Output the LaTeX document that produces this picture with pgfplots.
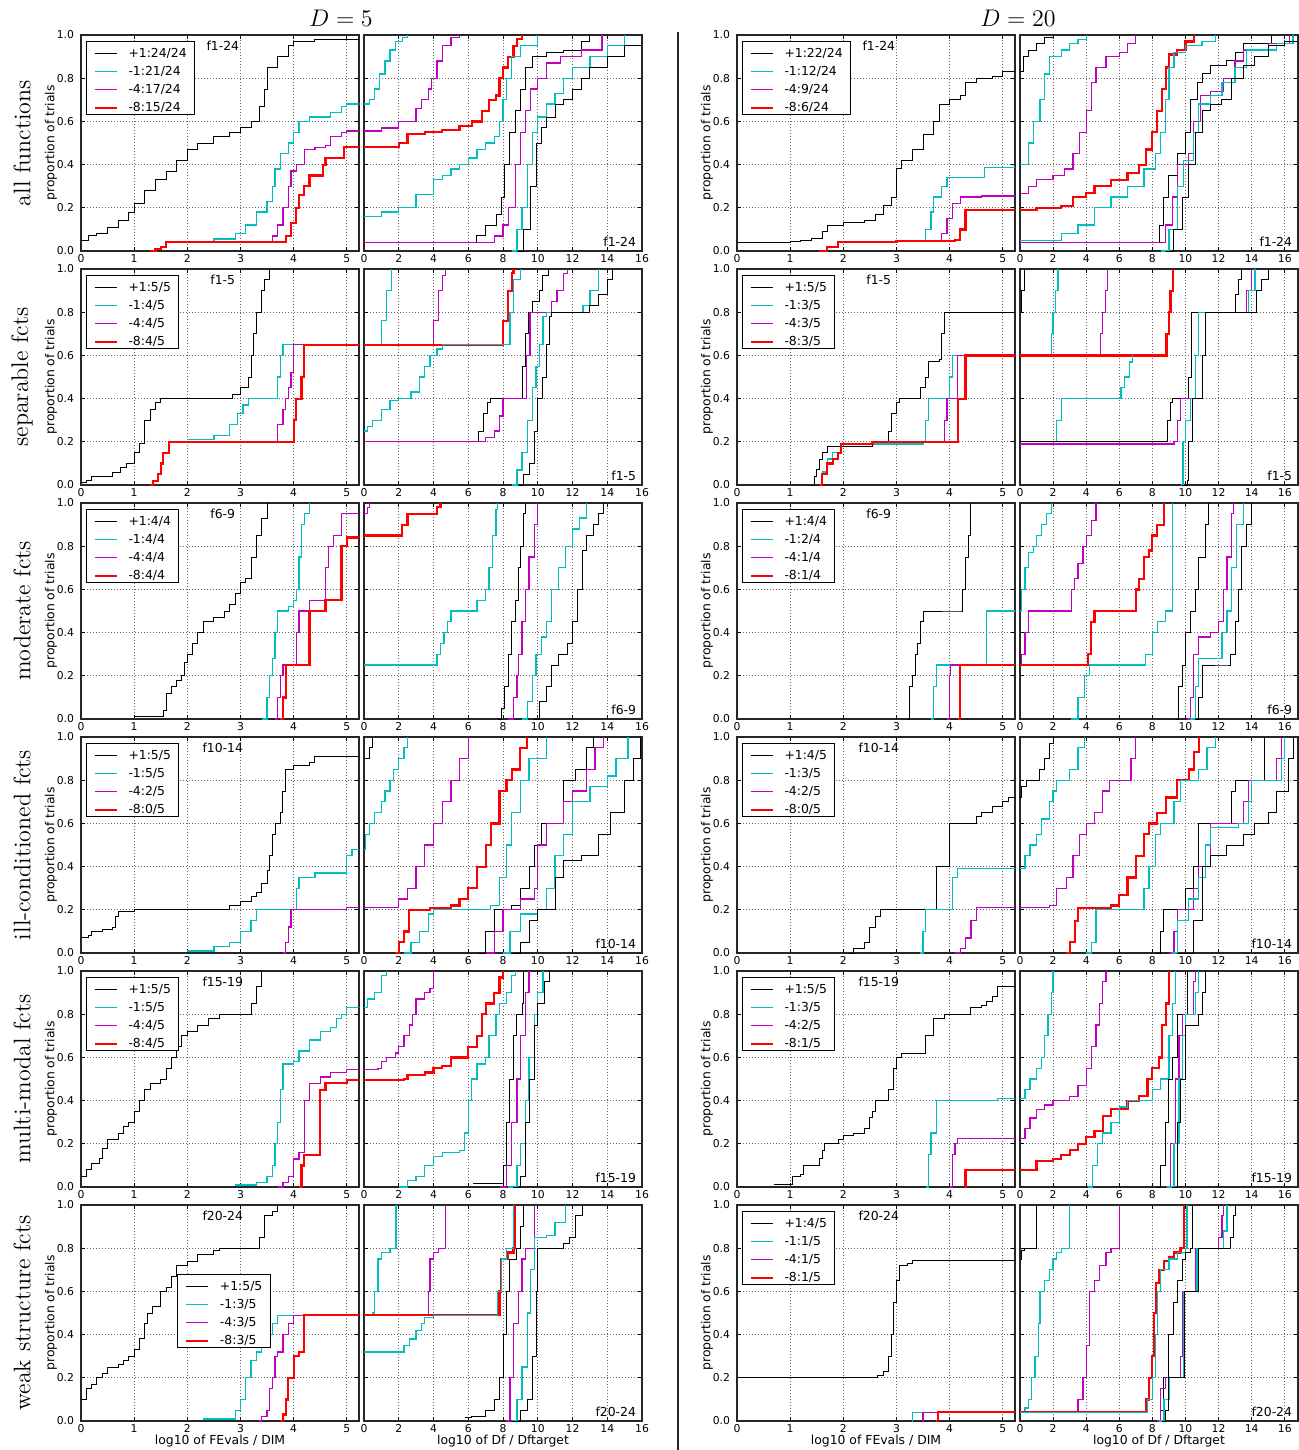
\documentclass[border=0pt]{standalone}
\usepackage{fontspec}
\usepackage{pgfplots}
\pgfplotsset{compat=1.18}
\newfontfamily\dv{DejaVu Sans}
\newcommand\tkf{\dv\fontsize{5.4}{6.5}\selectfont}
\newcommand\lgf{\dv\fontsize{6.2}{7.4}\selectfont}
\newcommand\rlf{\fontsize{12}{14}\selectfont}
\definecolor{mc}{rgb}{0,0.75,0.75}
\definecolor{mg}{rgb}{0.75,0,0.75}
\pgfplotsset{
  bb/.style={black, line width=0.5pt},
  cc/.style={mc, line width=0.65pt},
  mm/.style={mg, line width=0.65pt},
  rr/.style={red, line width=1.1pt},
  base/.style={scale only axis, width=139pt, height=108pt, ymin=0, ymax=1,
    ytick={0,0.2,0.4,0.6,0.8,1}, const plot, grid=major,
    grid style={black!60, line width=0.35pt, dash pattern=on 0.5pt off 1pt},
    tick align=inside, major tick length=2pt, tick style={black, line width=0.4pt},
    axis line style={black!85, line width=0.6pt},
    ticklabel style={font=\tkf}, /pgf/number format/assume math mode=true,
    yticklabel style={/pgf/number format/.cd, fixed, fixed zerofill, precision=1},
    xticklabel style={inner sep=1.5pt},
    anchor=south west,
    xlabel style={font=\lgf, at={(axis description cs:0.5,0)}, anchor=center, yshift=-10pt},
    ylabel style={font=\lgf, at={(axis description cs:-0.108,0.5)}, anchor=center},
  },
  colA/.style={base, at={(40.5pt,#1)}, xmin=0, xmax=5.23, xtick={0,1,2,3,4,5}, ylabel={proportion of trials}},
  colB/.style={base, at={(182pt,#1)}, xmin=0, xmax=16, xtick={0,2,4,6,8,10,12,14,16}, yticklabels={,,}},
  colC/.style={base, at={(368.5pt,#1)}, xmin=0, xmax=5.23, xtick={0,1,2,3,4,5}, ylabel={proportion of trials}},
  colD/.style={base, at={(510pt,#1)}, xmin=0, xmax=16.8, xtick={0,2,4,6,8,10,12,14,16}, yticklabels={,,}},
}
\newcommand\ftop[1]{\node[font=\lgf, anchor=base] at (rel axis cs:0.51,1) [yshift=-7.5pt] {#1};}
\newcommand\fbot[1]{\node[font=\lgf, anchor=base east, inner sep=0pt] at (rel axis cs:1,0) [xshift=-2.8pt, yshift=2.2pt] {#1};}
\newcommand\lsamp[2]{\textcolor{#1}{\rule[\dimexpr 1.9pt-#2/2\relax]{11pt}{#2}}\hspace{6pt}}
\newcommand\lgdbody[4]{\rule{0pt}{7.2pt}\lsamp{black}{0.5pt}#1\\[1.6pt]\lsamp{mc}{0.65pt}#2\\[1.6pt]\lsamp{mg}{0.65pt}#3\\[1.6pt]\lsamp{red}{1.1pt}#4}
\newcommand\lgd[4]{\node[draw=black, line width=0.5pt, fill=white, anchor=north west, inner xsep=4pt, inner ysep=0.8pt, font=\lgf, align=left] at (rel axis cs:0,1) [xshift=2.5pt, yshift=-3pt] {\lgdbody{#1}{#2}{#3}{#4}};}
\begin{document}
\begin{tikzpicture}
\path[use as bounding box] (0,0) rectangle (649.5pt,-725pt);
\node[font=\fontsize{11.5}{13}\selectfont] at (170.5pt,-9pt) {$D=5$};
\node[font=\fontsize{11.5}{13}\selectfont] at (509pt,-9pt) {$D=20$};
\draw[line width=1pt, black!85] (339pt,-16pt) -- (339pt,-725pt);
\node[rotate=90, font=\rlf] at (11pt,-71.5pt) {all functions};
\node[rotate=90, font=\rlf] at (11pt,-188.5pt) {separable fcts};
\node[rotate=90, font=\rlf] at (11pt,-305.5pt) {moderate fcts};
\node[rotate=90, font=\rlf] at (11pt,-422.5pt) {ill-conditioned fcts};
\node[rotate=90, font=\rlf] at (11pt,-539.5pt) {multi-modal fcts};
\node[rotate=90, font=\rlf] at (11pt,-656.5pt) {weak structure fcts};

% ================= ROW 1 =================
\begin{axis}[colA=-125.5pt]
\addplot[bb] coordinates {(0,0.05)(0.15,0.07)(0.3,0.08)(0.5,0.11)(0.7,0.14)(0.9,0.18)(1.0,0.22)(1.2,0.28)(1.4,0.33)(1.6,0.37)(1.8,0.42)(2.0,0.47)(2.2,0.5)(2.5,0.53)(2.8,0.55)(3.0,0.57)(3.2,0.6)(3.35,0.67)(3.45,0.75)(3.5,0.85)(3.7,0.9)(3.9,0.95)(4.0,0.97)(4.4,0.98)(5.3,0.98)};
\addplot[cc] coordinates {(2.0,0.045)(2.5,0.055)(2.9,0.08)(3.1,0.12)(3.3,0.18)(3.5,0.23)(3.6,0.3)(3.65,0.38)(3.75,0.45)(3.9,0.5)(4.0,0.55)(4.1,0.6)(4.3,0.62)(4.7,0.64)(4.9,0.67)(5.0,0.68)(5.3,0.68)};
\addplot[mm] coordinates {(3.5,0.045)(3.6,0.07)(3.7,0.12)(3.8,0.2)(3.9,0.3)(3.95,0.37)(4.05,0.4)(4.2,0.47)(4.4,0.48)(4.6,0.49)(4.7,0.53)(4.9,0.55)(5.0,0.555)(5.3,0.555)};
\addplot[rr] coordinates {(1.3,0)(1.4,0.01)(1.5,0.02)(1.6,0.04)(3.8,0.04)(3.85,0.07)(3.95,0.13)(4.05,0.2)(4.1,0.26)(4.2,0.3)(4.3,0.35)(4.5,0.35)(4.55,0.4)(4.6,0.43)(4.9,0.43)(4.95,0.48)(5.3,0.48)};
\ftop{f1-24}
\lgd{+1:24/24}{-1:21/24}{-4:17/24}{-8:15/24}
\end{axis}
\begin{axis}[colB=-125.5pt]
\addplot[cc] coordinates {(0,0.68)(0.3,0.7)(0.6,0.75)(0.9,0.82)(1.2,0.88)(1.5,0.93)(1.8,0.97)(2.2,0.99)(2.5,1.0)};
\addplot[mm] coordinates {(0,0.555)(1,0.57)(2,0.6)(3,0.66)(3.3,0.7)(3.7,0.75)(3.9,0.8)(4.2,0.88)(4.5,0.95)(5,0.99)(5.5,1.0)};
\addplot[rr] coordinates {(0,0.48)(1.8,0.48)(2.0,0.5)(2.5,0.54)(3.5,0.55)(4.5,0.56)(5.5,0.58)(6.2,0.6)(6.8,0.65)(7.2,0.7)(7.6,0.72)(7.8,0.8)(8.0,0.85)(8.3,0.9)(8.6,0.95)(8.8,0.98)(9.1,1.0)};
\addplot[cc] coordinates {(0,0.16)(1,0.18)(2,0.2)(3,0.26)(4,0.33)(4.5,0.35)(5,0.38)(5.5,0.4)(6,0.43)(6.5,0.47)(7,0.5)(7.5,0.53)(7.8,0.6)(8.0,0.7)(8.2,0.8)(8.5,0.9)(9,0.95)(10,1.0)};
\addplot[bb] coordinates {(0,0.04)(6.2,0.04)(6.5,0.07)(7,0.12)(7.6,0.17)(7.9,0.25)(8.1,0.4)(8.4,0.55)(8.7,0.65)(9.0,0.75)(9.3,0.85)(9.7,0.9)(10.5,0.92)(11.5,0.93)(12.5,0.97)(13.0,1.0)};
\addplot[mm] coordinates {(0,0.04)(6.8,0.04)(7.5,0.07)(8.0,0.12)(8.3,0.2)(8.7,0.4)(9.0,0.55)(9.3,0.65)(9.6,0.75)(10,0.8)(10.5,0.87)(11.3,0.9)(12.5,0.93)(13.7,1.0)};
\addplot[cc] coordinates {(8.5,0)(8.8,0.1)(9.1,0.2)(9.4,0.4)(9.7,0.55)(10,0.62)(10.5,0.68)(11,0.73)(11.5,0.8)(12,0.85)(13,0.9)(14,0.95)(15,1.0)};
\addplot[bb] coordinates {(8.8,0)(9.2,0.1)(9.6,0.3)(9.9,0.5)(10.2,0.57)(10.5,0.62)(11,0.68)(11.5,0.7)(12,0.75)(12.5,0.8)(13,0.85)(14,0.9)(15,0.95)(16,1.0)};
\fbot{f1-24}
\end{axis}
\begin{axis}[colC=-125.5pt]
\addplot[bb] coordinates {(0,0.04)(1.0,0.045)(1.2,0.05)(1.4,0.06)(1.6,0.09)(1.7,0.12)(2.0,0.13)(2.4,0.14)(2.6,0.17)(2.75,0.21)(2.9,0.25)(3.0,0.38)(3.1,0.42)(3.3,0.47)(3.5,0.54)(3.7,0.6)(3.8,0.68)(4.0,0.7)(4.2,0.72)(4.3,0.78)(4.5,0.8)(4.8,0.81)(5.0,0.83)(5.3,0.83)};
\addplot[cc] coordinates {(3.35,0.045)(3.55,0.1)(3.65,0.18)(3.7,0.25)(3.85,0.3)(3.95,0.34)(4.6,0.34)(4.65,0.385)(5.3,0.385)};
\addplot[mm] coordinates {(3.6,0.045)(3.85,0.08)(3.95,0.15)(4.05,0.22)(4.2,0.25)(4.6,0.255)(5.3,0.265)};
\addplot[rr] coordinates {(1.55,0)(1.7,0.02)(1.9,0.04)(3.0,0.045)(4.1,0.05)(4.2,0.1)(4.3,0.19)(5.3,0.19)};
\ftop{f1-24}
\lgd{+1:22/24}{-1:12/24}{-4:9/24}{-8:6/24}
\end{axis}
\begin{axis}[colD=-125.5pt]
\addplot[bb] coordinates {(0,0.83)(0.2,0.9)(0.5,0.93)(1,0.96)(1.5,0.99)(2,1.0)};
\addplot[cc] coordinates {(0,0.4)(0.5,0.5)(0.8,0.6)(1.2,0.7)(1.5,0.82)(1.8,0.9)(2.5,0.93)(3,0.96)(3.5,0.98)(4,1.0)};
\addplot[mm] coordinates {(0,0.265)(0.5,0.3)(1,0.33)(2,0.35)(2.7,0.38)(3.2,0.45)(3.6,0.55)(4.0,0.65)(4.3,0.78)(4.6,0.85)(5.2,0.9)(6,0.92)(6.5,0.96)(7,1.0)};
\addplot[rr] coordinates {(0,0.19)(1,0.2)(2.5,0.21)(3.2,0.25)(4,0.27)(4.5,0.3)(5.5,0.33)(6.5,0.36)(7.2,0.4)(7.6,0.47)(8.0,0.55)(8.3,0.65)(8.6,0.75)(8.8,0.85)(9.0,0.91)(9.5,0.93)(10,0.97)(10.5,1.0)};
\addplot[cc] coordinates {(0,0.05)(2,0.05)(2.5,0.08)(3.5,0.12)(4.5,0.2)(5.5,0.25)(6.5,0.3)(7.5,0.38)(8.2,0.45)(8.5,0.55)(8.8,0.7)(9.0,0.85)(9.3,0.92)(10,0.95)(11,0.97)(11.8,1.0)};
\addplot[bb] coordinates {(0,0.04)(8.2,0.04)(8.4,0.12)(8.7,0.25)(9.0,0.35)(9.5,0.45)(10,0.55)(10.3,0.7)(10.7,0.78)(11,0.82)(11.5,0.86)(12.5,0.88)(13,0.92)(13.5,0.96)(15,0.96)(15.2,1.0)};
\addplot[mm] coordinates {(0,0.04)(8.4,0.04)(8.8,0.12)(9.2,0.25)(9.5,0.4)(10.2,0.45)(10.5,0.6)(10.9,0.72)(11.5,0.74)(12.3,0.8)(13,0.88)(13.5,0.93)(15,0.96)(16.3,1.0)};
\addplot[cc] coordinates {(8.5,0)(9.0,0.1)(9.5,0.3)(9.9,0.42)(10.5,0.55)(10.8,0.68)(11.5,0.72)(12.2,0.78)(13,0.85)(13.7,0.93)(15.5,0.96)(16.5,1.0)};
\addplot[bb] coordinates {(8.8,0)(9.3,0.1)(9.8,0.25)(10.2,0.4)(10.6,0.55)(11,0.65)(11.5,0.68)(12.2,0.7)(12.8,0.8)(13.5,0.86)(14.2,0.9)(15,0.95)(16,0.97)(16.8,1.0)};
\fbot{f1-24}
\end{axis}

% ================= ROW 2 =================
\begin{axis}[colA=-242.5pt]
\addplot[bb] coordinates {(0,0.01)(0.1,0.02)(0.2,0.04)(0.6,0.06)(0.75,0.08)(0.85,0.1)(1.0,0.15)(1.1,0.19)(1.2,0.3)(1.3,0.35)(1.4,0.38)(1.5,0.4)(2.8,0.4)(2.85,0.42)(3.0,0.45)(3.15,0.5)(3.2,0.6)(3.25,0.7)(3.3,0.8)(3.4,0.9)(3.45,0.95)(3.55,1.0)};
\addplot[cc] coordinates {(2.0,0.21)(2.5,0.23)(2.8,0.28)(2.95,0.33)(3.05,0.37)(3.15,0.4)(3.65,0.4)(3.7,0.5)(3.75,0.6)(3.8,0.65)(5.3,0.65)};
\addplot[mm] coordinates {(3.6,0.2)(3.7,0.28)(3.8,0.35)(3.85,0.4)(3.9,0.45)(3.95,0.52)(4.0,0.65)(5.3,0.65)};
\addplot[rr] coordinates {(1.3,0)(1.35,0.02)(1.45,0.05)(1.5,0.1)(1.55,0.15)(1.65,0.2)(3.95,0.2)(4.0,0.3)(4.05,0.4)(4.15,0.5)(4.2,0.65)(5.3,0.65)};
\ftop{f1-5}
\lgd{+1:5/5}{-1:4/5}{-4:4/5}{-8:4/5}
\end{axis}
\begin{axis}[colB=-242.5pt]
\addplot[cc] coordinates {(0,0.65)(1.0,0.76)(1.3,0.9)(1.6,1.0)};
\addplot[mm] coordinates {(0,0.65)(4.0,0.76)(4.3,0.9)(4.5,0.97)(4.7,1.0)};
\addplot[rr] coordinates {(0,0.65)(8.0,0.76)(8.3,0.9)(8.5,0.98)(8.6,1.0)};
\addplot[cc] coordinates {(0,0.25)(0.2,0.27)(0.5,0.3)(1,0.35)(1.5,0.39)(2,0.4)(2.7,0.43)(3.2,0.5)(3.5,0.55)(3.8,0.6)(4.2,0.63)(4.5,0.65)(8.2,0.65)(8.4,0.8)(8.6,0.95)(9.0,1.0)};
\addplot[bb] coordinates {(0,0.2)(6.4,0.2)(6.6,0.25)(6.9,0.33)(7.1,0.38)(7.3,0.4)(9.0,0.4)(9.15,0.55)(9.3,0.7)(9.45,0.8)(9.7,0.85)(10.1,0.9)(10.3,0.97)(10.6,1.0)};
\addplot[mm] coordinates {(0,0.2)(6.6,0.2)(7.0,0.22)(7.5,0.25)(7.8,0.32)(8.0,0.4)(9.2,0.4)(9.35,0.6)(9.55,0.8)(10.6,0.8)(10.8,0.85)(11.1,0.9)(11.5,0.98)(11.7,1.0)};
\addplot[cc] coordinates {(8.5,0)(8.8,0.07)(9.1,0.15)(9.4,0.3)(9.7,0.45)(9.9,0.55)(10.1,0.65)(10.3,0.78)(10.5,0.8)(12.3,0.8)(12.6,0.83)(13.0,0.9)(13.5,1.0)};
\addplot[bb] coordinates {(8.9,0)(9.2,0.05)(9.5,0.1)(9.8,0.25)(10.0,0.4)(10.3,0.5)(10.5,0.65)(10.7,0.78)(10.8,0.8)(12.6,0.8)(13.0,0.83)(13.5,0.88)(14.0,0.95)(14.3,1.0)};
\fbot{f1-5}
\end{axis}
\begin{axis}[colC=-242.5pt]
\addplot[bb] coordinates {(1.4,0)(1.45,0.04)(1.5,0.07)(1.55,0.12)(1.6,0.15)(1.7,0.18)(2.5,0.18)(2.55,0.2)(2.8,0.2)(2.85,0.25)(2.9,0.33)(3.0,0.38)(3.05,0.4)(3.35,0.4)(3.45,0.45)(3.55,0.5)(3.6,0.57)(3.8,0.58)(3.85,0.7)(3.9,0.8)(5.3,0.8)};
\addplot[cc] coordinates {(1.6,0.06)(1.7,0.12)(1.8,0.15)(1.95,0.19)(3.5,0.2)(3.55,0.3)(3.6,0.4)(3.95,0.4)(4.0,0.5)(4.05,0.6)(5.3,0.6)};
\addplot[mm] coordinates {(3.85,0.2)(3.9,0.3)(3.95,0.4)(4.1,0.4)(4.15,0.6)(5.3,0.6)};
\addplot[rr] coordinates {(1.55,0)(1.6,0.05)(1.7,0.1)(1.8,0.12)(1.9,0.15)(1.95,0.19)(2.5,0.19)(2.55,0.2)(4.1,0.2)(4.15,0.4)(4.3,0.6)(5.3,0.6)};
\ftop{f1-5}
\lgd{+1:5/5}{-1:3/5}{-4:3/5}{-8:3/5}
\end{axis}
\begin{axis}[colD=-242.5pt]
\addplot[bb] coordinates {(0,0.8)(0.1,0.9)(0.3,1.0)};
\addplot[cc] coordinates {(0,0.6)(1.8,0.6)(1.9,0.7)(2.0,0.8)(2.15,0.9)(2.3,1.0)};
\addplot[mm] coordinates {(4.7,0.6)(4.85,0.7)(5.0,0.8)(5.15,0.9)(5.3,1.0)};
\addplot[rr] coordinates {(0,0.6)(8.7,0.6)(8.85,0.7)(9.0,0.8)(9.1,0.9)(9.25,1.0)};
\addplot[cc] coordinates {(0,0.2)(2.0,0.2)(2.2,0.3)(2.5,0.4)(5.9,0.4)(6.1,0.45)(6.3,0.5)(6.6,0.57)(6.8,0.6)};
\addplot[bb] coordinates {(0,0.2)(8.7,0.2)(8.9,0.3)(9.1,0.38)(9.2,0.4)(10.0,0.4)(10.2,0.5)(10.35,0.8)(12.8,0.8)(13.0,0.88)(13.2,0.95)(13.4,1.0)};
\addplot[mm] coordinates {(0,0.19)(9.0,0.19)(9.3,0.2)(9.5,0.3)(9.7,0.4)(10.4,0.4)(10.6,0.6)(10.8,0.8)(13.5,0.8)(13.7,0.9)(14.0,1.0)};
\addplot[cc] coordinates {(9.7,0)(9.85,0.2)(10.0,0.3)(10.3,0.4)(10.6,0.6)(10.8,0.8)(13.6,0.8)(13.8,0.9)(14.2,1.0)};
\addplot[bb] coordinates {(9.8,0)(10.1,0.02)(10.2,0.2)(10.4,0.4)(10.9,0.4)(11.0,0.6)(11.2,0.8)(14.1,0.8)(14.3,0.9)(14.6,0.95)(15.0,1.0)};
\fbot{f1-5}
\end{axis}

% ================= ROW 3 =================
\begin{axis}[colA=-359.5pt]
\addplot[bb] coordinates {(1.0,0.01)(1.5,0.01)(1.55,0.04)(1.6,0.12)(1.7,0.15)(1.8,0.18)(1.9,0.2)(1.95,0.26)(2.0,0.3)(2.1,0.35)(2.2,0.4)(2.3,0.45)(2.5,0.47)(2.7,0.5)(2.8,0.53)(2.9,0.58)(3.0,0.63)(3.1,0.65)(3.2,0.75)(3.3,0.85)(3.4,0.93)(3.5,1.0)};
\addplot[cc] coordinates {(3.4,0)(3.5,0.1)(3.55,0.2)(3.6,0.28)(3.65,0.4)(3.7,0.5)(3.9,0.52)(4.0,0.55)(4.05,0.6)(4.1,0.75)(4.15,0.9)(4.2,0.95)(4.3,1.0)};
\addplot[mm] coordinates {(3.65,0)(3.7,0.1)(3.75,0.2)(3.8,0.25)(4.0,0.25)(4.05,0.4)(4.1,0.5)(4.3,0.55)(4.55,0.55)(4.6,0.7)(4.65,0.8)(4.75,0.85)(4.85,0.85)(4.9,0.95)(5.3,0.95)};
\addplot[rr] coordinates {(3.75,0)(3.8,0.1)(3.85,0.25)(4.3,0.5)(4.6,0.55)(4.9,0.8)(5.0,0.84)(5.3,0.84)};
\ftop{f6-9}
\lgd{+1:4/4}{-1:4/4}{-4:4/4}{-8:4/4}
\end{axis}
\begin{axis}[colB=-359.5pt]
\addplot[mm] coordinates {(0,0.95)(0.2,0.98)(0.3,1.0)};
\addplot[rr] coordinates {(0,0.85)(2.0,0.85)(2.2,0.9)(2.5,0.95)(4.0,0.95)(4.2,0.98)(4.4,1.0)};
\addplot[cc] coordinates {(0,0.25)(4.0,0.25)(4.2,0.3)(4.4,0.35)(4.6,0.4)(4.8,0.45)(5.0,0.5)(6.0,0.5)(6.5,0.55)(7.0,0.6)(7.2,0.7)(7.4,0.85)(7.6,0.97)(7.7,1.0)};
\addplot[bb] coordinates {(7.7,0)(7.9,0.05)(8.1,0.15)(8.3,0.3)(8.5,0.45)(8.7,0.55)(8.9,0.7)(9.0,0.8)(9.2,0.95)(9.3,1.0)};
\addplot[mm] coordinates {(8.3,0)(8.6,0.1)(8.8,0.2)(8.9,0.3)(9.1,0.45)(9.3,0.6)(9.5,0.75)(9.8,0.9)(10.0,1.0)};
\addplot[cc] coordinates {(9.1,0)(9.4,0.08)(9.7,0.2)(9.9,0.3)(10.2,0.38)(10.5,0.45)(10.8,0.6)(11.2,0.7)(11.6,0.8)(12.0,0.88)(12.4,0.93)(12.8,1.0)};
\addplot[bb] coordinates {(9.8,0)(10.1,0.08)(10.5,0.15)(10.8,0.25)(11.2,0.3)(11.7,0.35)(12.0,0.45)(12.3,0.6)(12.6,0.78)(12.8,0.85)(13.2,0.9)(13.5,0.95)(13.8,1.0)};
\fbot{f6-9}
\end{axis}
\begin{axis}[colC=-359.5pt]
\addplot[bb] coordinates {(3.2,0)(3.25,0.15)(3.3,0.2)(3.35,0.3)(3.4,0.35)(3.45,0.45)(3.5,0.5)(4.2,0.5)(4.25,0.6)(4.3,0.75)(4.35,0.85)(4.4,1.0)};
\addplot[cc] coordinates {(3.65,0)(3.7,0.15)(3.75,0.25)(4.7,0.5)(5.3,0.5)};
\addplot[mm] coordinates {(3.95,0)(4.0,0.2)(4.02,0.25)(5.3,0.25)};
\addplot[rr] coordinates {(4.15,0)(4.2,0.25)(5.3,0.25)};
\ftop{f6-9}
\lgd{+1:4/4}{-1:2/4}{-4:1/4}{-8:1/4}
\end{axis}
\begin{axis}[colD=-359.5pt]
\addplot[cc] coordinates {(0,0.5)(0.1,0.6)(0.3,0.7)(0.5,0.77)(0.8,0.8)(1.0,0.85)(1.3,0.9)(1.6,0.95)(1.9,1.0)};
\addplot[mm] coordinates {(0,0.25)(0.1,0.3)(0.3,0.4)(0.5,0.5)(3.0,0.5)(3.1,0.6)(3.3,0.65)(3.5,0.72)(3.8,0.8)(4.0,0.85)(4.3,0.92)(4.6,1.0)};
\addplot[rr] coordinates {(0,0.25)(4.0,0.25)(4.1,0.3)(4.3,0.45)(4.5,0.5)(6.9,0.5)(7.0,0.6)(7.2,0.65)(7.5,0.75)(7.8,0.78)(8.0,0.85)(8.3,0.9)(8.7,1.0)};
\addplot[cc] coordinates {(3.1,0)(3.5,0.1)(3.9,0.2)(4.2,0.25)(7.4,0.25)(7.6,0.3)(8.0,0.4)(8.3,0.45)(8.8,0.5)(9.1,0.5)(9.2,1.0)};
\addplot[bb] coordinates {(9.4,0)(9.6,0.15)(9.8,0.25)(10.0,0.4)(10.3,0.5)(10.6,0.6)(10.8,0.75)(11.2,0.9)(11.4,1.0)};
\addplot[mm] coordinates {(10.1,0)(10.3,0.1)(10.5,0.3)(10.8,0.38)(11.5,0.4)(12.0,0.45)(12.3,0.6)(12.5,0.75)(12.8,0.95)(12.9,1.0)};
\addplot[cc] coordinates {(10.3,0)(10.6,0.15)(10.8,0.28)(12.0,0.28)(12.2,0.4)(12.5,0.5)(12.8,0.7)(13.1,0.9)(13.5,1.0)};
\addplot[bb] coordinates {(10.6,0)(10.8,0.1)(11.0,0.25)(12.5,0.25)(12.7,0.3)(13.0,0.45)(13.2,0.6)(13.4,0.8)(13.7,0.9)(14.0,1.0)};
\fbot{f6-9}
\end{axis}

% ================= ROW 4 =================
\begin{axis}[colA=-476.5pt]
\addplot[bb] coordinates {(0,0.07)(0.15,0.08)(0.2,0.1)(0.4,0.11)(0.6,0.12)(0.65,0.17)(0.7,0.19)(1.0,0.2)(2.7,0.2)(2.8,0.22)(3.0,0.24)(3.2,0.26)(3.3,0.28)(3.4,0.32)(3.5,0.38)(3.55,0.45)(3.6,0.55)(3.65,0.6)(3.75,0.65)(3.8,0.75)(3.85,0.85)(4.0,0.87)(4.3,0.88)(4.4,0.91)(5.3,0.91)};
\addplot[cc] coordinates {(2.0,0.01)(2.5,0.03)(2.8,0.05)(3.0,0.1)(3.2,0.15)(3.3,0.2)(4.0,0.2)(4.05,0.3)(4.1,0.35)(4.4,0.37)(4.9,0.37)(5.0,0.45)(5.1,0.48)(5.3,0.48)};
\addplot[mm] coordinates {(3.8,0)(3.85,0.05)(3.9,0.12)(3.95,0.2)(5.0,0.21)(5.3,0.21)};
\ftop{f10-14}
\lgd{+1:5/5}{-1:5/5}{-4:2/5}{-8:0/5}
\end{axis}
\begin{axis}[colB=-476.5pt]
\addplot[bb] coordinates {(0,0.9)(0.3,0.95)(0.5,1.0)};
\addplot[cc] coordinates {(0,0.48)(0.1,0.55)(0.3,0.6)(0.6,0.65)(1.0,0.7)(1.2,0.75)(1.5,0.8)(1.7,0.85)(2.0,0.9)(2.3,0.95)(2.5,1.0)};
\addplot[mm] coordinates {(0,0.21)(1.5,0.21)(2.0,0.25)(2.5,0.3)(3.0,0.4)(3.5,0.5)(4.0,0.6)(4.5,0.7)(5.0,0.8)(5.5,0.9)(6.0,1.0)};
\addplot[rr] coordinates {(1.8,0)(2.0,0.05)(2.3,0.1)(2.6,0.2)(3.8,0.21)(5.0,0.22)(5.5,0.25)(6.0,0.3)(6.5,0.4)(7.0,0.5)(7.3,0.6)(7.8,0.75)(8.2,0.8)(8.5,0.85)(9.0,0.95)(9.4,1.0)};
\addplot[cc] coordinates {(2.3,0)(2.7,0.05)(3.2,0.1)(3.7,0.18)(4.0,0.2)(7.0,0.2)(7.3,0.22)(7.8,0.35)(8.2,0.5)(8.5,0.65)(9.0,0.8)(9.5,0.9)(10.5,1.0)};
\addplot[bb] coordinates {(6.6,0)(7.0,0.1)(7.5,0.2)(8.5,0.22)(9.0,0.3)(9.5,0.4)(9.8,0.5)(10.2,0.6)(11.0,0.6)(11.5,0.8)(12.2,0.85)(12.8,0.95)(13.2,1.0)};
\addplot[mm] coordinates {(7.0,0)(7.5,0.1)(8.0,0.2)(9.0,0.25)(9.8,0.3)(10.0,0.5)(10.5,0.6)(11.5,0.7)(12.0,0.75)(12.8,0.85)(13.3,0.95)(13.8,1.0)};
\addplot[cc] coordinates {(8.0,0)(8.4,0.1)(9.0,0.18)(10.0,0.2)(10.5,0.3)(11.0,0.45)(11.5,0.55)(12.0,0.7)(13.0,0.77)(14.0,0.82)(14.5,0.9)(15.2,1.0)};
\addplot[bb] coordinates {(8.6,0)(9.0,0.05)(9.5,0.15)(10.0,0.2)(10.8,0.2)(11.0,0.35)(11.5,0.43)(12.5,0.45)(13.5,0.55)(14.2,0.65)(15.0,0.8)(15.5,0.9)(15.9,1.0)};
\fbot{f10-14}
\end{axis}
\begin{axis}[colC=-476.5pt]
\addplot[bb] coordinates {(2.1,0)(2.2,0.02)(2.4,0.05)(2.5,0.12)(2.6,0.17)(2.7,0.2)(3.75,0.4)(4.0,0.6)(4.5,0.63)(4.6,0.65)(4.8,0.68)(5.0,0.7)(5.1,0.72)(5.3,0.72)};
\addplot[cc] coordinates {(3.45,0)(3.5,0.1)(3.55,0.2)(4.05,0.35)(4.15,0.39)(5.3,0.39)};
\addplot[mm] coordinates {(4.1,0)(4.2,0.02)(4.3,0.07)(4.4,0.15)(4.5,0.21)(5.3,0.21)};
\ftop{f10-14}
\lgd{+1:4/5}{-1:3/5}{-4:2/5}{-8:0/5}
\end{axis}
\begin{axis}[colD=-476.5pt]
\addplot[bb] coordinates {(0,0.72)(0.1,0.77)(0.4,0.8)(1.0,0.8)(1.2,0.85)(1.5,0.9)(1.8,0.97)(2.0,1.0)};
\addplot[cc] coordinates {(0,0.39)(0.3,0.45)(0.6,0.5)(1.0,0.55)(1.3,0.62)(1.8,0.7)(2.0,0.75)(2.2,0.8)(2.8,0.8)(3.0,0.85)(3.5,0.95)(3.9,1.0)};
\addplot[mm] coordinates {(0,0.21)(1.5,0.21)(1.8,0.22)(2.2,0.3)(2.8,0.35)(3.2,0.45)(3.6,0.55)(4.0,0.6)(4.5,0.65)(5.0,0.75)(5.4,0.8)(6.5,0.8)(6.7,0.9)(7.0,1.0)};
\addplot[rr] coordinates {(2.8,0)(3.0,0.05)(3.3,0.15)(3.5,0.21)(5.5,0.22)(6.0,0.27)(6.5,0.35)(7.0,0.45)(7.5,0.55)(7.8,0.6)(8.3,0.65)(8.8,0.72)(9.5,0.8)(10.0,0.8)(10.2,0.85)(10.5,0.93)(10.8,1.0)};
\addplot[cc] coordinates {(4.0,0)(4.3,0.05)(4.6,0.2)(7.2,0.2)(7.5,0.3)(7.8,0.4)(8.2,0.55)(8.5,0.6)(9.3,0.7)(9.7,0.8)(10.8,0.85)(11.3,0.95)(11.8,1.0)};
\addplot[bb] coordinates {(8.2,0)(8.5,0.1)(8.7,0.2)(9.5,0.2)(10.0,0.3)(10.5,0.4)(10.8,0.6)(12.5,0.6)(12.8,0.75)(13.0,0.8)(14.5,0.8)(14.8,1.0)};
\addplot[mm] coordinates {(9.0,0)(9.3,0.1)(9.5,0.2)(10.5,0.3)(10.8,0.4)(11.5,0.6)(13.0,0.6)(13.5,0.7)(13.8,0.8)(15.2,0.8)(15.5,0.9)(15.8,1.0)};
\addplot[cc] coordinates {(9.2,0)(9.5,0.15)(10.2,0.25)(10.8,0.35)(11.2,0.5)(11.5,0.58)(13.2,0.6)(13.8,0.7)(14.0,0.8)(15.5,0.8)(15.8,0.9)(16.0,1.0)};
\addplot[bb] coordinates {(9.5,0)(10.5,0.15)(11.0,0.4)(11.5,0.45)(12.5,0.5)(13.5,0.55)(14.2,0.6)(15.0,0.65)(15.5,0.75)(16.2,0.9)(16.5,1.0)};
\fbot{f10-14}
\end{axis}

% ================= ROW 5 =================
\begin{axis}[colA=-593.5pt]
\addplot[bb] coordinates {(0,0.05)(0.1,0.08)(0.2,0.11)(0.35,0.13)(0.4,0.18)(0.5,0.22)(0.7,0.25)(0.8,0.28)(0.9,0.3)(1.0,0.35)(1.1,0.4)(1.2,0.45)(1.3,0.48)(1.5,0.5)(1.6,0.55)(1.7,0.6)(1.8,0.65)(1.9,0.7)(2.0,0.72)(2.2,0.75)(2.4,0.78)(2.6,0.8)(3.1,0.8)(3.2,0.85)(3.3,0.93)(3.4,1.0)};
\addplot[cc] coordinates {(2.9,0.01)(3.3,0.02)(3.5,0.05)(3.6,0.1)(3.65,0.2)(3.7,0.3)(3.75,0.45)(3.8,0.57)(4.0,0.58)(4.1,0.63)(4.3,0.68)(4.5,0.72)(4.7,0.74)(4.8,0.78)(4.9,0.8)(5.0,0.83)(5.3,0.83)};
\addplot[mm] coordinates {(3.7,0)(3.8,0.02)(3.9,0.05)(4.0,0.13)(4.1,0.16)(4.2,0.4)(4.3,0.48)(4.5,0.51)(4.7,0.53)(5.0,0.545)(5.3,0.545)};
\addplot[rr] coordinates {(4.1,0)(4.15,0.1)(4.2,0.15)(4.5,0.45)(4.6,0.48)(5.0,0.495)(5.3,0.495)};
\ftop{f15-19}
\lgd{+1:5/5}{-1:5/5}{-4:4/5}{-8:4/5}
\end{axis}
\begin{axis}[colB=-593.5pt]
\addplot[cc] coordinates {(0,0.83)(0.2,0.87)(0.6,0.9)(1.0,0.98)(1.3,1.0)};
\addplot[mm] coordinates {(0,0.545)(0.8,0.55)(1.0,0.58)(1.3,0.6)(1.8,0.62)(2.0,0.65)(2.3,0.7)(2.6,0.75)(2.8,0.8)(3.0,0.87)(3.5,0.9)(3.8,0.92)(4.0,1.0)};
\addplot[rr] coordinates {(0,0.495)(2.3,0.5)(2.5,0.52)(3.5,0.53)(4.0,0.55)(4.5,0.56)(5.0,0.6)(5.8,0.6)(6.0,0.65)(6.5,0.7)(6.8,0.8)(7.0,0.85)(7.5,0.9)(7.8,0.97)(8.0,1.0)};
\addplot[cc] coordinates {(2.0,0)(2.5,0.03)(3.0,0.05)(3.5,0.1)(4.0,0.14)(4.5,0.16)(5.5,0.17)(5.8,0.25)(6.0,0.4)(6.2,0.5)(6.5,0.57)(7.0,0.6)(7.2,0.7)(7.6,0.8)(7.8,0.85)(8.2,0.9)(8.5,0.98)(8.7,1.0)};
\addplot[bb] coordinates {(6.3,0.015)(7.8,0.015)(8.0,0.1)(8.2,0.3)(8.4,0.5)(8.6,0.7)(8.8,0.8)(9.1,0.85)(9.2,1.0)};
\addplot[mm] coordinates {(7.8,0)(8.2,0.1)(8.5,0.3)(8.8,0.5)(9.0,0.7)(9.3,0.9)(9.5,1.0)};
\addplot[cc] coordinates {(8.3,0)(8.8,0.1)(9.0,0.2)(9.3,0.4)(9.5,0.6)(9.8,0.8)(10.0,0.9)(10.3,1.0)};
\addplot[bb] coordinates {(8.6,0)(9.0,0.05)(9.3,0.3)(9.5,0.5)(9.8,0.75)(10.0,0.85)(10.4,0.95)(10.7,1.0)};
\fbot{f15-19}
\end{axis}
\begin{axis}[colC=-593.5pt]
\addplot[bb] coordinates {(0.7,0.01)(1.05,0.05)(1.2,0.06)(1.25,0.1)(1.55,0.13)(1.6,0.17)(1.65,0.2)(1.9,0.22)(2.0,0.24)(2.2,0.25)(2.4,0.27)(2.5,0.32)(2.55,0.35)(2.6,0.4)(2.85,0.45)(2.95,0.55)(3.0,0.6)(3.1,0.62)(3.55,0.7)(3.7,0.78)(3.9,0.8)(4.4,0.83)(4.6,0.84)(4.7,0.86)(4.8,0.88)(4.9,0.93)(5.3,0.93)};
\addplot[cc] coordinates {(3.55,0)(3.6,0.15)(3.65,0.25)(3.75,0.4)(4.9,0.41)(5.3,0.41)};
\addplot[mm] coordinates {(4.0,0)(4.05,0.15)(4.1,0.2)(4.15,0.225)(5.3,0.225)};
\addplot[rr] coordinates {(4.29,0)(4.3,0.08)(5.3,0.08)};
\ftop{f15-19}
\lgd{+1:5/5}{-1:3/5}{-4:2/5}{-8:1/5}
\end{axis}
\begin{axis}[colD=-593.5pt]
\addplot[cc] coordinates {(0,0.41)(0.3,0.45)(0.6,0.5)(1.0,0.55)(1.3,0.6)(1.5,0.7)(1.7,0.8)(1.9,0.9)(2.0,1.0)};
\addplot[mm] coordinates {(0,0.225)(0.3,0.27)(0.6,0.32)(1.0,0.36)(1.5,0.38)(2.0,0.4)(3.0,0.42)(3.5,0.47)(4.0,0.55)(4.3,0.65)(4.6,0.75)(4.8,0.85)(5.0,0.95)(5.2,1.0)};
\addplot[rr] coordinates {(0,0.08)(0.8,0.08)(1.0,0.12)(2.0,0.13)(2.5,0.15)(3.0,0.17)(3.5,0.2)(4.0,0.23)(4.5,0.26)(5.0,0.33)(5.5,0.36)(6.5,0.4)(7.2,0.42)(7.7,0.5)(8.0,0.55)(8.4,0.6)(8.6,0.75)(8.8,0.85)(9.0,1.0)};
\addplot[cc] coordinates {(4.1,0)(4.4,0.1)(4.7,0.2)(5.0,0.25)(5.5,0.3)(6.0,0.37)(6.5,0.4)(7.5,0.4)(8.0,0.45)(8.5,0.5)(9.0,0.7)(9.2,0.85)(9.4,1.0)};
\addplot[bb] coordinates {(8.2,0)(8.5,0.1)(8.8,0.3)(9.0,0.5)(9.2,0.6)(9.5,0.8)(10.0,0.8)(10.1,1.0)};
\addplot[mm] coordinates {(8.8,0)(9.1,0.2)(9.4,0.5)(9.6,0.7)(9.8,0.8)(10.2,0.8)(10.5,0.95)(10.6,1.0)};
\addplot[cc] coordinates {(8.9,0)(9.3,0.2)(9.6,0.5)(9.8,0.7)(10.0,0.8)(10.5,0.8)(10.6,0.9)(10.8,1.0)};
\addplot[bb] coordinates {(9.2,0)(9.5,0.3)(9.7,0.5)(10.0,0.75)(10.8,0.8)(11.0,0.9)(11.2,1.0)};
\fbot{f15-19}
\end{axis}

% ================= ROW 6 =================
\begin{axis}[colA=-710.5pt, xlabel={log10 of FEvals / DIM}]
\addplot[bb] coordinates {(0,0.1)(0.1,0.15)(0.2,0.17)(0.3,0.2)(0.4,0.22)(0.5,0.25)(0.7,0.26)(0.8,0.28)(0.9,0.3)(1.0,0.33)(1.1,0.38)(1.2,0.45)(1.25,0.5)(1.35,0.53)(1.5,0.6)(1.6,0.62)(1.7,0.67)(1.8,0.72)(2.0,0.74)(2.2,0.77)(2.5,0.79)(2.6,0.8)(3.3,0.8)(3.35,0.85)(3.45,0.95)(3.6,0.97)(3.7,1.0)};
\addplot[cc] coordinates {(2.3,0.01)(2.85,0.01)(2.9,0.05)(3.0,0.1)(3.1,0.2)(3.2,0.28)(3.3,0.32)(3.4,0.35)(3.5,0.4)(3.6,0.45)(3.7,0.49)(5.3,0.49)};
\addplot[mm] coordinates {(3.35,0)(3.4,0.02)(3.5,0.05)(3.55,0.15)(3.6,0.2)(3.65,0.3)(3.7,0.32)(3.8,0.4)(3.9,0.45)(4.0,0.49)(5.3,0.49)};
\addplot[rr] coordinates {(3.75,0)(3.8,0.03)(3.85,0.1)(3.9,0.2)(4.0,0.3)(4.1,0.32)(4.2,0.49)(5.3,0.49)};
\ftop{f20-24}
\node[draw=black, line width=0.5pt, fill=white, anchor=north west, inner xsep=4pt, inner ysep=0.8pt, font=\lgf, align=left] at (rel axis cs:0.347,0.68) {\lgdbody{+1:5/5}{-1:3/5}{-4:3/5}{-8:3/5}};
\end{axis}
\begin{axis}[colB=-710.5pt, xlabel={log10 of Df / Dftarget}]
\addplot[cc] coordinates {(0,0.49)(0.5,0.5)(0.6,0.6)(0.8,0.75)(1.0,0.78)(1.5,0.8)(1.8,0.8)(1.85,1.0)};
\addplot[mm] coordinates {(3.6,0.49)(3.7,0.6)(3.8,0.75)(4.0,0.78)(4.3,0.8)(4.6,0.8)(4.7,1.0)};
\addplot[rr] coordinates {(0,0.49)(7.6,0.49)(7.8,0.6)(7.9,0.75)(8.3,0.78)(8.6,0.8)(8.7,1.0)};
\addplot[cc] coordinates {(0,0.32)(2.0,0.32)(2.3,0.35)(2.6,0.38)(3.0,0.42)(3.3,0.45)(3.5,0.48)(4.0,0.49)(7.5,0.49)(7.7,0.6)(7.9,0.75)(8.2,0.8)(8.5,0.8)(8.6,1.0)};
\addplot[bb] coordinates {(5.8,0.015)(6.2,0.02)(7.0,0.05)(7.5,0.1)(7.8,0.2)(8.0,0.4)(8.2,0.6)(8.4,0.75)(8.8,0.8)(9.0,0.9)(9.2,1.0)};
\addplot[mm] coordinates {(8.2,0)(8.4,0.2)(8.6,0.45)(8.9,0.6)(9.1,0.75)(9.3,0.8)(9.7,0.8)(9.8,1.0)};
\addplot[cc] coordinates {(8.5,0)(8.8,0.1)(9.1,0.25)(9.4,0.5)(9.6,0.7)(9.8,0.85)(10.5,0.86)(11.0,0.92)(11.6,1.0)};
\addplot[bb] coordinates {(8.5,0)(9.0,0.05)(9.4,0.1)(9.7,0.3)(9.9,0.6)(10.0,0.8)(11.2,0.8)(11.5,0.82)(11.8,0.85)(12.2,0.95)(12.6,1.0)};
\fbot{f20-24}
\end{axis}
\begin{axis}[colC=-710.5pt, xlabel={log10 of FEvals / DIM}]
\addplot[bb] coordinates {(0,0.2)(2.6,0.2)(2.65,0.21)(2.75,0.23)(2.85,0.3)(2.9,0.4)(2.95,0.55)(3.0,0.65)(3.05,0.72)(3.2,0.73)(3.3,0.745)(5.3,0.745)};
\addplot[cc] coordinates {(3.29,0)(3.3,0.04)(5.3,0.04)};
\addplot[mm] coordinates {(3.49,0)(3.5,0.04)(5.3,0.04)};
\addplot[rr] coordinates {(3.75,0)(3.78,0.04)(5.3,0.04)};
\ftop{f20-24}
\lgd{+1:4/5}{-1:1/5}{-4:1/5}{-8:1/5}
\end{axis}
\begin{axis}[colD=-710.5pt, xlabel={log10 of Df / Dftarget}]
\addplot[bb] coordinates {(0,0.75)(0.1,0.79)(0.3,0.8)(0.9,0.8)(1.0,1.0)};
\addplot[cc] coordinates {(0,0.04)(0.3,0.06)(0.5,0.1)(0.7,0.2)(0.9,0.3)(1.1,0.45)(1.2,0.6)(1.5,0.65)(1.8,0.7)(2.0,0.75)(2.2,0.78)(2.5,0.8)(2.9,0.8)(3.0,1.0)};
\addplot[mm] coordinates {(3.2,0.04)(3.5,0.1)(3.8,0.2)(4.0,0.35)(4.2,0.6)(4.5,0.65)(4.8,0.72)(5.2,0.78)(5.5,0.8)(5.9,0.8)(6.0,1.0)};
\addplot[rr] coordinates {(0,0.04)(7.3,0.04)(7.6,0.1)(7.8,0.2)(8.0,0.3)(8.1,0.5)(8.2,0.64)(8.4,0.7)(8.7,0.74)(9.0,0.76)(9.3,0.78)(9.7,0.8)(9.9,1.0)};
\addplot[cc] coordinates {(0,0.04)(7.4,0.04)(7.7,0.1)(8.0,0.2)(8.2,0.4)(8.3,0.6)(8.5,0.7)(9.0,0.75)(9.5,0.78)(10.0,0.8)(10.1,1.0)};
\addplot[bb] coordinates {(8.3,0)(8.5,0.05)(8.7,0.2)(9.0,0.4)(9.3,0.55)(9.5,0.65)(9.8,0.75)(10.0,0.78)(10.3,0.8)(10.4,1.0)};
\addplot[mm] coordinates {(8.3,0)(8.5,0.15)(8.8,0.2)(9.5,0.2)(9.7,0.3)(9.8,0.6)(10.5,0.6)(10.6,0.8)(11.8,0.8)(12.0,0.85)(12.2,0.95)(12.3,1.0)};
\addplot[cc] coordinates {(8.4,0)(8.7,0.1)(9.0,0.2)(9.8,0.2)(9.9,0.6)(10.6,0.6)(10.7,0.8)(12.0,0.8)(12.3,0.88)(12.5,1.0)};
\addplot[bb] coordinates {(8.6,0)(8.8,0.05)(9.0,0.2)(9.9,0.2)(9.95,0.6)(10.7,0.6)(10.8,0.8)(12.5,0.8)(12.7,0.85)(12.9,0.95)(13.0,1.0)};
\fbot{f20-24}
\end{axis}
\end{tikzpicture}
\end{document}
